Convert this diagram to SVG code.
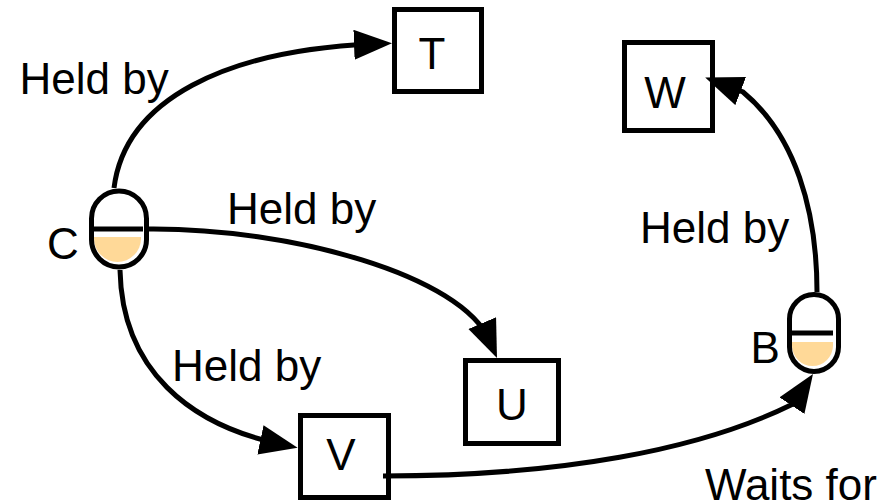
<svg xmlns="http://www.w3.org/2000/svg" width="895" height="503" viewBox="0 0 895 503">
<defs>
<marker id="arrow" markerUnits="userSpaceOnUse" markerWidth="40" markerHeight="32" refX="20" refY="15" orient="auto"><path d="M0,0 L38,15 L0,30 Z" fill="#000"/></marker>
</defs>
<style>
.box{fill:#fff;stroke:#000;stroke-width:5}
.cap{fill:none;stroke:#000;stroke-width:5}
.lvl{fill:#ffd998;stroke:none}
.bar{stroke:#000;stroke-width:5;fill:none}
.c{fill:none;stroke:#000;stroke-width:5}
text{font-family:"Liberation Sans",Arial,sans-serif;font-size:44px;fill:#000}
.m{text-anchor:middle}
</style>
<rect width="895" height="503" fill="#fff"/>
<g id="T"><rect class="box" x="394.500" y="9.500" width="87" height="82"/><text class="m" x="432" y="69">T</text></g>
<g id="W"><rect class="box" x="624.500" y="42.500" width="88" height="88"/><text class="m" x="665" y="108">W</text></g>
<g id="U"><rect class="box" x="465.500" y="360.500" width="93" height="83"/><text class="m" x="512" y="420">U</text></g>
<g id="V"><rect class="box" x="300.500" y="415.500" width="88" height="82"/><text class="m" x="341" y="470">V</text></g>
<g id="C"><path class="lvl" d="M94,237 H141 V238.500 A23.500,23.500 0 0 1 94,238.500 Z"/><rect class="cap" x="91.500" y="191" width="55" height="76" rx="27.500" ry="27.500"/><path class="bar" d="M92,229 H143"/><text x="47" y="259">C</text></g>
<g id="B"><path class="lvl" d="M792,342 H833 V345.500 A20.500,20.500 0 0 1 792,345.500 Z"/><rect class="cap" x="789.500" y="294.500" width="49" height="77" rx="24.500" ry="24.500"/><path class="bar" d="M792,333 H833"/><text x="750.500" y="363">B</text></g>
<g id="connectors">
<path class="c" d="M114,188 C125,100 225,50 374,44" marker-end="url(#arrow)"/>
<path class="c" d="M149,229 C290,228 462,275 490,341.500" marker-end="url(#arrow)"/>
<path class="c" d="M120,270 C122,370 190,425 280,444" marker-end="url(#arrow)"/>
<path class="c" d="M383,476 C560,476 700,450 793,404 L803,389" marker-end="url(#arrow)"/>
<path class="c" d="M817,292 C817,210 795,135 743,92 L722,84" marker-end="url(#arrow)"/>
</g>
<g id="labels">
<text x="19.500" y="94">Held by</text>
<text x="227" y="224">Held by</text>
<text x="172" y="381">Held by</text>
<text x="640" y="243">Held by</text>
<text x="705" y="500">Waits for</text>
</g>
</svg>
